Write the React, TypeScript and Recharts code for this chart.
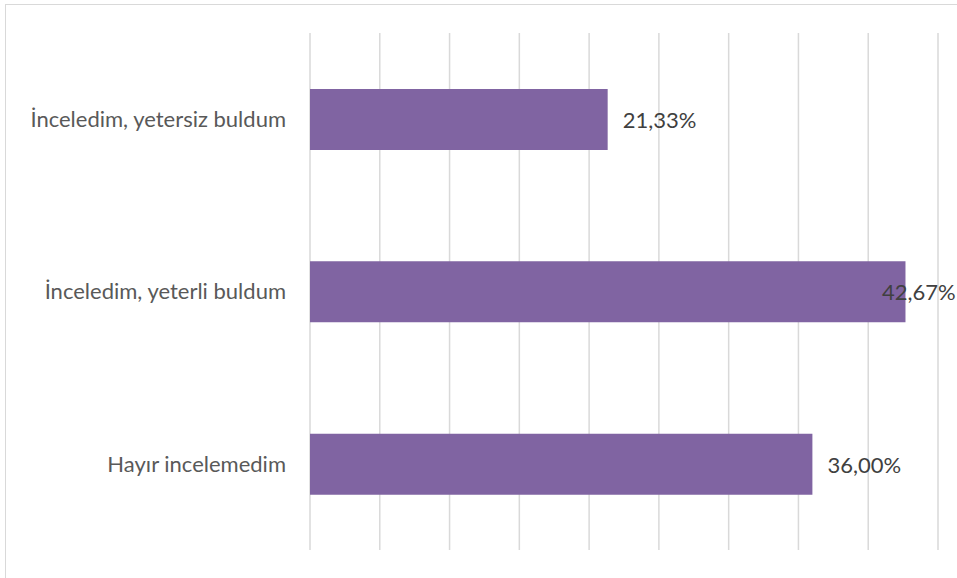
import { Bar, BarChart, CartesianGrid, LabelList, XAxis, YAxis } from "recharts";

const categories = [
  "İnceledim, yetersiz buldum",
  "İnceledim, yeterli buldum",
  "Hayır incelemedim"
];
const shares = [21.33, 42.67, 36.0];
const xTicks = [0, 5, 10, 15, 20, 25, 30, 35, 40, 45];

const data = categories.map((name, i) => ({ name, value: shares[i] }));

const FONT = "Lato, 'Open Sans', sans-serif";
const BAR_COLOR = "#8064a2";

// Excel pulls the label back inside when it would run past the chart edge
function ValueLabel(props: any) {
  const { x, y, width, height, value } = props;
  const text = Number(value).toFixed(2).replace(".", ",") + "%";
  const lx = Math.min(x + width + 15, 882);
  return (
    <text
      x={lx}
      y={y + height / 2}
      fill="#404040"
      fontSize={22}
      fontFamily={FONT}
      dominantBaseline="central"
    >
      {text}
    </text>
  );
}

// axis has no visible labels in the original, only the gridlines
const NoTick = () => <g />;

export default function App() {
  return (
    <div
      style={{
        position: "fixed",
        left: 0,
        top: 0,
        width: 957,
        height: 578,
        background: "#fff",
        overflow: "hidden"
      }}
    >
      <div
        style={{
          position: "absolute",
          left: 5,
          top: 4,
          width: 1100,
          height: 1000,
          border: "1px solid #d9d9d9"
        }}
      />
      <div style={{ position: "absolute", left: 0, top: 0 }}>
        <BarChart
          width={957}
          height={578}
          layout="vertical"
          data={data}
          margin={{ top: 33, right: 19, bottom: 27, left: 0 }}
        >
          <CartesianGrid horizontal={false} stroke="#d9d9d9" strokeWidth={1.5} />
          <XAxis
            type="number"
            domain={[0, 45]}
            ticks={xTicks}
            interval={0}
            tick={NoTick}
            axisLine={false}
            tickLine={false}
            height={1}
          />
          <YAxis
            type="category"
            dataKey="name"
            width={310}
            axisLine={false}
            tickLine={false}
            tickSize={0}
            tickMargin={24}
            tick={{ fill: "#595959", fontSize: 22, fontFamily: FONT }}
          />
          <Bar dataKey="value" fill={BAR_COLOR} barSize={61} isAnimationActive={false}>
            <LabelList dataKey="value" content={<ValueLabel />} />
          </Bar>
        </BarChart>
      </div>
    </div>
  );
}
